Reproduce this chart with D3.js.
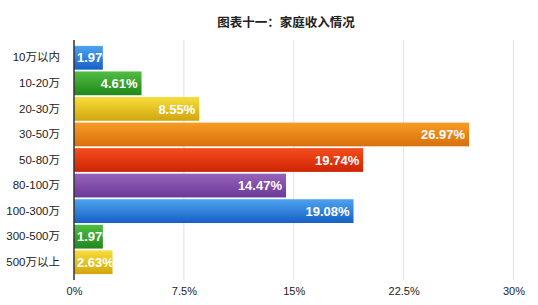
<!DOCTYPE html>
<html>
<head>
<meta charset="utf-8">
<script src="https://cdn.jsdelivr.net/npm/d3@7"></script>
<style>
  body { margin: 0; background: #fff; }
  svg { display: block; font-family: "Liberation Sans", Arial, "Noto Sans CJK SC", sans-serif; }
</style>
</head>
<body>
<div id="chart"></div>
<script>
var categories = ['10万以内', '10-20万', '20-30万', '30-50万', '50-80万', '80-100万', '100-300万', '300-500万', '500万以上'];
var values = [1.97, 4.61, 8.55, 26.97, 19.74, 14.47, 19.08, 1.97, 2.63];
var ticks = [0, 7.5, 15, 22.5, 30];
var title = '图表十一：家庭收入情况';

// top / bottom colours of each bar's gradient, cycled
var palette = [
  ['#4ea3ef', '#1660c6'],
  ['#52bd42', '#1f881c'],
  ['#f8dd3c', '#d1a60d'],
  ['#f79c26', '#d8700c'],
  ['#f64e1e', '#cd2304'],
  ['#9763ba', '#6b3997']
];

var width = 538, height = 305;
var svg = d3.select('#chart').append('svg')
  .attr('width', width)
  .attr('height', height);

var x = d3.scaleLinear().domain([0, 30]).range([74, 513.5]);
var y = d3.scaleBand().domain(categories).range([45, 275]).paddingInner(0.07).paddingOuter(0.035);

var defs = svg.append('defs');
palette.forEach(function(c, i) {
  var g = defs.append('linearGradient')
    .attr('id', 'grad' + i)
    .attr('x1', 0).attr('y1', 0).attr('x2', 0).attr('y2', 1);
  g.append('stop').attr('offset', '0%').attr('stop-color', c[0]);
  g.append('stop').attr('offset', '100%').attr('stop-color', c[1]);
});

svg.append('text')
  .attr('x', 286).attr('y', 27)
  .attr('text-anchor', 'middle')
  .attr('font-size', 12.5)
  .attr('font-weight', 'bold')
  .attr('fill', '#222')
  .style('font-family', '"Noto Sans CJK SC", sans-serif')
  .text(title);

// grid
svg.append('g').selectAll('line')
  .data(ticks.slice(1))
  .enter().append('line')
  .attr('x1', function(d) { return x(d); })
  .attr('x2', function(d) { return x(d); })
  .attr('y1', 40).attr('y2', 280)
  .attr('stroke', '#e2e2e2')
  .attr('stroke-width', 1);

// x axis labels
var xAxis = d3.axisBottom(x).tickValues(ticks).tickSize(0).tickPadding(0)
  .tickFormat(function(d) { return d + '%'; });
var gx = svg.append('g').attr('transform', 'translate(0,287)').call(xAxis);
gx.select('.domain').remove();
gx.selectAll('text').attr('font-size', 11).attr('fill', '#222')
  .style('font-family', '"Liberation Sans", Arial, sans-serif');

// y axis labels
var yAxis = d3.axisLeft(y).tickSize(0).tickPadding(0);
var gy = svg.append('g').attr('transform', 'translate(60,0)').call(yAxis);
gy.select('.domain').remove();
gy.selectAll('text').attr('font-size', 11.5).attr('fill', '#222')
  .style('font-family', '"Liberation Sans", "Noto Sans CJK SC", sans-serif');

// bars
var bars = svg.append('g').selectAll('g')
  .data(values)
  .enter().append('g');

bars.append('clipPath')
  .attr('id', function(d, i) { return 'clip' + i; })
  .append('rect')
  .attr('x', x(0))
  .attr('y', function(d, i) { return y(categories[i]); })
  .attr('width', function(d) { return x(d) - x(0); })
  .attr('height', y.bandwidth());

bars.append('rect')
  .attr('x', x(0))
  .attr('y', function(d, i) { return y(categories[i]); })
  .attr('width', function(d) { return x(d) - x(0); })
  .attr('height', y.bandwidth())
  .attr('fill', function(d, i) { return 'url(#grad' + (i % palette.length) + ')'; });

bars.append('text')
  .attr('clip-path', function(d, i) { return 'url(#clip' + i + ')'; })
  .attr('y', function(d, i) { return y(categories[i]) + y.bandwidth() / 2; })
  .attr('dy', '0.36em')
  .attr('font-size', 13)
  .attr('font-weight', 'bold')
  .attr('fill', '#fff')
  .text(function(d) { return d.toFixed(2) + '%'; })
  .each(function(d) {
    var t = d3.select(this);
    var w = this.getComputedTextLength();
    var barW = x(d) - x(0);
    if (w + 8 > barW) {
      t.attr('x', x(0) + 3).attr('text-anchor', 'start');
    } else {
      t.attr('x', x(d) - 4).attr('text-anchor', 'end');
    }
  });

// zero axis line
svg.append('line')
  .attr('x1', x(0)).attr('x2', x(0))
  .attr('y1', 40).attr('y2', 280)
  .attr('stroke', '#333')
  .attr('stroke-width', 1.5);
</script>
</body>
</html>
